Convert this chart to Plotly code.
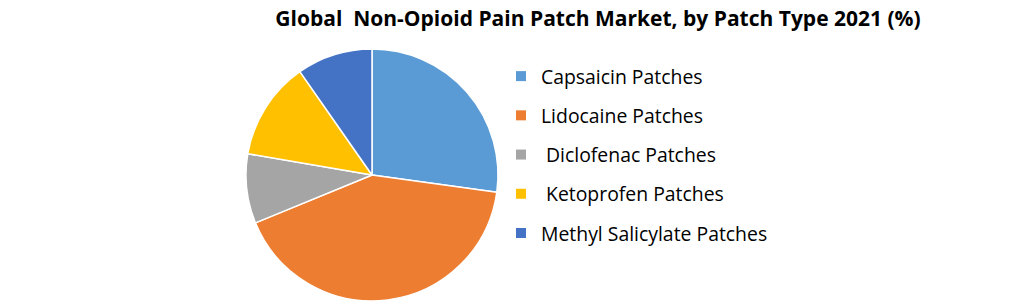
import plotly.graph_objects as go

labels = ["Capsaicin Patches", "Lidocaine Patches", "\u00a0Diclofenac Patches",
          "\u00a0Ketoprofen Patches", "Methyl Salicylate Patches"]
values = [27.2, 41.6, 8.9, 12.6, 9.7]
colors = ["#5B9BD5", "#ED7D31", "#A5A5A5", "#FFC000", "#4472C4"]
title = "Global\u00a0 Non-Opioid Pain Patch Market, by Patch Type 2021 (%)"

W, H = 1020, 303
fig = go.Figure()
fig.add_trace(go.Pie(
    labels=labels, values=values, sort=False, direction="clockwise", rotation=0,
    marker=dict(colors=colors, line=dict(color="white", width=1.5)),
    textinfo="none", hoverinfo="label+percent", showlegend=False,
    domain=dict(x=[246 / W, 498 / W], y=[2 / H, 254 / H]),
))
for i, (lab, col) in enumerate(zip(labels, colors)):
    fig.add_trace(go.Scatter(
        x=[None], y=[None], mode="markers", name=lab, legendgroup=f"g{i}",
        marker=dict(symbol="square", size=10, color=col),
        showlegend=True,
    ))

fig.update_layout(
    width=W, height=H, margin=dict(l=0, r=0, t=0, b=0),
    paper_bgcolor="white", plot_bgcolor="white",
    font=dict(family="Open Sans, Liberation Sans, sans-serif", color="#000000"),
    title=dict(text=f"<b>{title}</b>", x=598 / W, xanchor="center", y=1 - 18.5 / H,
               yanchor="middle", font=dict(size=21, color="#000000")),
    xaxis=dict(visible=False), yaxis=dict(visible=False),
    legend=dict(x=501 / W, xanchor="left", y=1 - 57 / H, yanchor="top",
                font=dict(size=19.4, color="#000000"), tracegroupgap=11,
                itemwidth=30, bgcolor="rgba(0,0,0,0)"),
)
fig.write_html("out.html")
